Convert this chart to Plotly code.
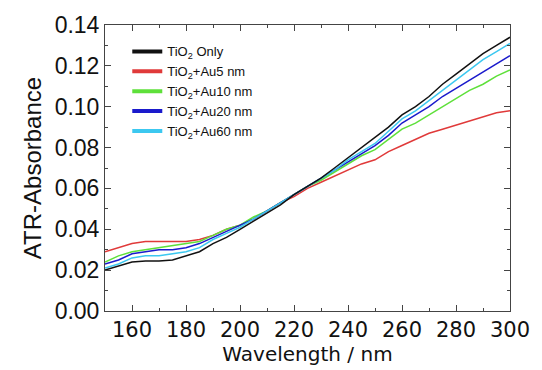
import plotly.graph_objects as go

wavelength = list(range(150, 301, 5))

tio2_only = [0.020, 0.022, 0.024, 0.0245, 0.0245, 0.025, 0.027, 0.029, 0.033, 0.036,
             0.040, 0.044, 0.048, 0.052, 0.057, 0.061, 0.065, 0.070, 0.075, 0.080,
             0.085, 0.090, 0.096, 0.100, 0.105, 0.111, 0.116, 0.121, 0.126, 0.130, 0.134]
au5 = [0.029, 0.031, 0.033, 0.034, 0.034, 0.034, 0.034, 0.035, 0.037, 0.040,
       0.042, 0.045, 0.049, 0.053, 0.056, 0.060, 0.063, 0.066, 0.069, 0.072,
       0.074, 0.078, 0.081, 0.084, 0.087, 0.089, 0.091, 0.093, 0.095, 0.097, 0.098]
au10 = [0.024, 0.027, 0.029, 0.030, 0.031, 0.032, 0.033, 0.034, 0.037, 0.040,
        0.042, 0.046, 0.049, 0.053, 0.057, 0.061, 0.064, 0.068, 0.072, 0.076,
        0.079, 0.084, 0.089, 0.092, 0.096, 0.100, 0.104, 0.108, 0.111, 0.115, 0.118]
au20 = [0.023, 0.025, 0.028, 0.029, 0.030, 0.030, 0.031, 0.033, 0.036, 0.039,
        0.042, 0.045, 0.049, 0.053, 0.057, 0.061, 0.065, 0.069, 0.073, 0.077,
        0.081, 0.086, 0.092, 0.096, 0.100, 0.105, 0.109, 0.113, 0.117, 0.121, 0.125]
au60 = [0.021, 0.023, 0.026, 0.027, 0.027, 0.028, 0.029, 0.031, 0.035, 0.038,
        0.041, 0.045, 0.049, 0.053, 0.057, 0.061, 0.065, 0.069, 0.074, 0.078,
        0.082, 0.088, 0.094, 0.098, 0.103, 0.108, 0.113, 0.118, 0.123, 0.127, 0.131]

names = ["TiO<sub>2</sub> Only", "TiO<sub>2</sub>+Au5 nm", "TiO<sub>2</sub>+Au10 nm",
         "TiO<sub>2</sub>+Au20 nm", "TiO<sub>2</sub>+Au60 nm"]
series = [tio2_only, au5, au10, au20, au60]
colors = ["#111111", "#e03a3a", "#5ee03a", "#1a1acc", "#3cc8f0"]

fig = go.Figure()
order = [1, 2, 3, 4, 0]
for i in order:
    fig.add_trace(go.Scatter(x=wavelength, y=series[i], mode="lines",
                             line=dict(color=colors[i], width=1.5),
                             showlegend=False, hoverinfo="skip"))
for i in range(5):
    fig.add_trace(go.Scatter(x=[None], y=[None], mode="lines", name=names[i],
                             line=dict(color=colors[i], width=4)))

axis_common = dict(showline=True, linecolor="#444", linewidth=1, mirror="allticks",
                   ticks="inside", ticklen=6, tickcolor="#444", showgrid=False,
                   zeroline=False)

fig.update_xaxes(range=[150, 300], tickvals=list(range(160, 301, 20)),
                 minor=dict(ticks="inside", ticklen=3, dtick=10, tickcolor="#444", showgrid=False),
                 tickfont=dict(family="DejaVu Sans", size=21, color="#111"),
                 title=dict(text="Wavelength / nm", standoff=2,
                            font=dict(family="DejaVu Sans", size=20, color="#111")),
                 **axis_common)
fig.update_yaxes(range=[0, 0.14], tickvals=[0, 0.02, 0.04, 0.06, 0.08, 0.10, 0.12, 0.14],
                 tickformat=".2f",
                 minor=dict(ticks="inside", ticklen=3, dtick=0.01, tickcolor="#444", showgrid=False),
                 tickfont=dict(family="Liberation Sans", size=23, color="#111"),
                 title=dict(text="ATR-Absorbance", standoff=6,
                            font=dict(family="Liberation Sans", size=24, color="#111")),
                 **axis_common)

fig.update_layout(
    width=542, height=370,
    margin=dict(l=105, r=30, t=21, b=57),
    plot_bgcolor="white", paper_bgcolor="white",
    legend=dict(x=0.055, y=0.96, xanchor="left", yanchor="top",
                font=dict(family="Liberation Sans", size=13, color="#111"),
                bgcolor="rgba(0,0,0,0)", tracegroupgap=0, itemwidth=30),
)

fig.write_html("out.html")
